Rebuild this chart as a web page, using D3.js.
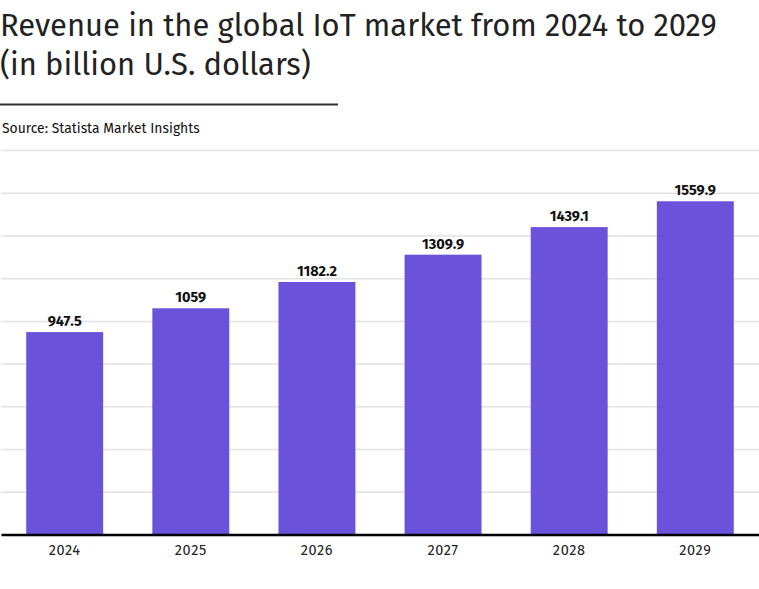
<!DOCTYPE html>
<html><head><meta charset="utf-8">
<script src="https://cdn.jsdelivr.net/npm/d3@7"></script>
<style>body{margin:0;background:#fff;}svg{display:block;}</style>
</head><body>
<svg id="chart" width="759" height="589"></svg>
<script>
const years = ["2024","2025","2026","2027","2028","2029"];
const revenue = [947.5, 1059, 1182.2, 1309.9, 1439.1, 1559.9];
const valueLabels = ["947.5","1059","1182.2","1309.9","1439.1","1559.9"];
const gridTicks = [200,400,600,800,1000,1200,1400,1600,1800];
const titleLines = ["Revenue in the global IoT market from 2024 to 2029","(in billion U.S. dollars)"];
const sourceText = "Source: Statista Market Insights";

const svg = d3.select("#chart");
const font = "'Fira Sans','Noto Sans','Open Sans',sans-serif";

// title
const t1 = svg.append("text").attr("x",0).attr("y",36).attr("font-family",font)
  .attr("font-size",30).attr("fill","#222").text(titleLines[0]);
const w = t1.node().getComputedTextLength();
const fs = 30*717/w;
t1.attr("font-size",fs);
svg.append("text").attr("x",0).attr("y",75).attr("font-family",font)
  .attr("font-size",fs).attr("fill","#222").text(titleLines[1]);

svg.append("line").attr("x1",0).attr("x2",338).attr("y1",104.5).attr("y2",104.5)
  .attr("stroke","#333").attr("stroke-width",2);

const src = svg.append("text").attr("x",2).attr("y",133).attr("font-family",font)
  .attr("font-size",14).attr("fill","#111").text(sourceText);
const sw = src.node().getComputedTextLength();
src.attr("font-size",14*198/sw);

const x = d3.scaleBand().domain(years).range([1,759]).paddingInner(0.39).paddingOuter(0.2);
const y = d3.scaleLinear().domain([0,1800]).range([534.5,150]);

// gridlines
svg.append("g").attr("class","grid")
  .attr("transform","translate(1,0)")
  .call(d3.axisLeft(y).tickValues(gridTicks).tickSize(-758).tickFormat(""))
  .call(g=>g.select(".domain").remove())
  .call(g=>g.selectAll(".tick line").attr("stroke","#e2e2e2").attr("stroke-width",1.5));

// bars
svg.append("g").selectAll("rect").data(revenue).join("rect")
  .attr("x",(d,i)=>x(years[i])).attr("width",x.bandwidth())
  .attr("y",d=>y(d)).attr("height",d=>y(0)-y(d))
  .attr("fill","#6b52da");

// value labels
svg.append("g").selectAll("text").data(revenue).join("text")
  .attr("x",(d,i)=>x(years[i])+x.bandwidth()/2).attr("y",d=>y(d)-6)
  .attr("text-anchor","middle").attr("font-family",font).attr("font-weight","bold")
  .attr("font-size",14.5).attr("fill","#111").text((d,i)=>valueLabels[i]);

// x axis
const xa = svg.append("g").attr("transform","translate(0,534.5)")
  .call(d3.axisBottom(x).tickSize(0).tickPadding(10));
xa.select(".domain").attr("stroke","#000").attr("stroke-width",2.5);
xa.selectAll("text").attr("font-family",font).attr("font-size",14.5)
  .attr("letter-spacing","0.6px").attr("fill","#222");
</script>
</body></html>
